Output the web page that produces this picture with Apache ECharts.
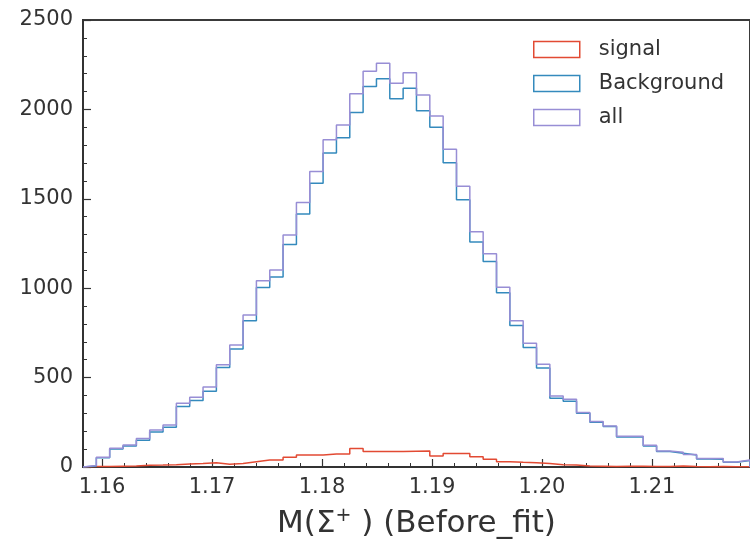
<!DOCTYPE html>
<html>
<head>
<meta charset="utf-8">
<script src="https://cdn.jsdelivr.net/npm/echarts@6/dist/echarts.min.js"></script>
<style>
  html, body { margin: 0; padding: 0; background: #fff; }
  #chart { width: 750px; height: 545px; }
</style>
</head>
<body>
<div id="chart"></div>
<script>
// histogram binning (50 bins)
const binStart = 1.15827
const binWidth = 0.0012127
const xMin = 1.15827
const xMax = 1.21891

const signalCounts = [3, 3, 4, 5, 10, 11, 13, 17, 19, 24, 16, 20, 30, 39, 39, 54, 67, 67, 73, 73,
  104, 86, 86, 86, 88, 89, 62, 76, 76, 58, 43, 30, 26, 24, 20, 13, 11, 5, 4, 3,
  4, 4, 3, 3, 5, 3, 2, 3, 2, 2]
const backgroundCounts = [5, 52, 100, 118, 150, 196, 222, 338, 372, 423, 556, 660, 818, 1004, 1063, 1245, 1415, 1587, 1756, 1842,
  1982, 2128, 2172, 2060, 2118, 1992, 1900, 1702, 1494, 1258, 1150, 975, 792, 668, 554, 384, 368, 300, 250, 227,
  168, 168, 118, 87, 77, 67, 45, 44, 26, 37]
const allCounts = [8, 55, 105, 123, 160, 207, 235, 356, 390, 447, 572, 682, 850, 1042, 1102, 1297, 1480, 1652, 1830, 1913,
  2088, 2213, 2258, 2146, 2205, 2081, 1963, 1777, 1570, 1316, 1193, 1006, 818, 692, 574, 397, 379, 305, 254, 230,
  172, 172, 121, 90, 82, 70, 47, 47, 28, 39]

const xMajorTicks = [1.16, 1.17, 1.18, 1.19, 1.20, 1.21]
const xMinorTicks = [1.16, 1.162, 1.164, 1.166, 1.168, 1.17, 1.172, 1.174, 1.176, 1.178, 1.18, 1.182, 1.184, 1.186, 1.188,
  1.19, 1.192, 1.194, 1.196, 1.198, 1.20, 1.202, 1.204, 1.206, 1.208, 1.21, 1.212, 1.214, 1.216, 1.218]

const COLORS = { signal: '#e24a33', Background: '#348abd', all: '#988ed5' }
const FONT = 'DejaVu Sans'
const AXIS_COLOR = '#333'

// step outline: horizontal at each bin value, vertical at edges
function stepPoints(counts) {
  const pts = [[binStart, 0]]
  counts.forEach((c, i) => pts.push([binStart + i * binWidth, c]))
  const end = binStart + counts.length * binWidth
  pts.push([end, counts[counts.length - 1]])
  pts.push([end, 0])
  return pts
}

const chart = echarts.init(document.getElementById('chart'), null, { renderer: 'canvas' })

const baseX = {
  type: 'value',
  min: xMin,
  max: xMax,
  position: 'bottom',
  splitLine: { show: false },
}

const option = {
  animation: false,
  grid: {
    left: 83, right: -2, top: 20, bottom: 78,
    show: true, borderColor: '#3a3a3a', borderWidth: 2, backgroundColor: 'transparent',
  },
  legend: {
    orient: 'vertical',
    left: 528,
    top: 34,
    itemWidth: 46,
    itemHeight: 16,
    itemGap: 13,
    selectedMode: false,
    icon: 'rect',
    textStyle: { fontFamily: FONT, fontSize: 21, color: '#333', padding: [0, 0, 0, 14] },
    data: ['signal', 'Background', 'all'].map(n => ({
      name: n,
      itemStyle: { color: 'transparent', borderColor: COLORS[n], borderWidth: 1.5 },
    })),
  },
  xAxis: [
    {
      ...baseX,
      name: 'M(Σ{sup|+} ) (Before_fit)',
      nameLocation: 'middle',
      nameGap: 40,
      nameTextStyle: {
        fontFamily: FONT, fontSize: 31, color: '#333',
        rich: { sup: { fontFamily: FONT, fontSize: 19, color: '#333', verticalAlign: 'top', padding: [0, 0, 15, 0] } },
      },
      axisLine: { show: true, lineStyle: { color: AXIS_COLOR, width: 2 } },
      axisTick: { show: true, inside: true, length: 8, customValues: xMajorTicks, lineStyle: { color: AXIS_COLOR, width: 1.2 } },
      axisLabel: {
        customValues: xMajorTicks, margin: 10, fontFamily: FONT, fontSize: 21, color: '#333',
        formatter: v => v.toFixed(2),
      },
    },
    {
      ...baseX,
      axisLine: { show: false },
      axisTick: { show: true, inside: true, length: 4, customValues: xMinorTicks, lineStyle: { color: AXIS_COLOR, width: 1 } },
      axisLabel: { show: false },
    },
  ],
  yAxis: {
    type: 'value',
    min: 0,
    max: 2500,
    interval: 500,
    splitLine: { show: false },
    axisLine: { show: true, lineStyle: { color: AXIS_COLOR, width: 2 } },
    axisTick: { show: true, inside: true, length: 8, lineStyle: { color: AXIS_COLOR, width: 1.2 } },
    minorTick: { show: true, splitNumber: 5, length: 4, lineStyle: { color: AXIS_COLOR, width: 1 } },
    axisLabel: { margin: 10, fontFamily: FONT, fontSize: 21, color: '#333', formatter: v => String(v) },
  },
  series: [
    ['signal', signalCounts],
    ['Background', backgroundCounts],
    ['all', allCounts],
  ].map(([name, counts]) => ({
    name,
    type: 'line',
    step: 'end',
    showSymbol: false,
    color: COLORS[name],
    lineStyle: { color: COLORS[name], width: 1.5 },
    data: stepPoints(counts),
  })),
}

chart.setOption(option)
</script>
</body>
</html>
